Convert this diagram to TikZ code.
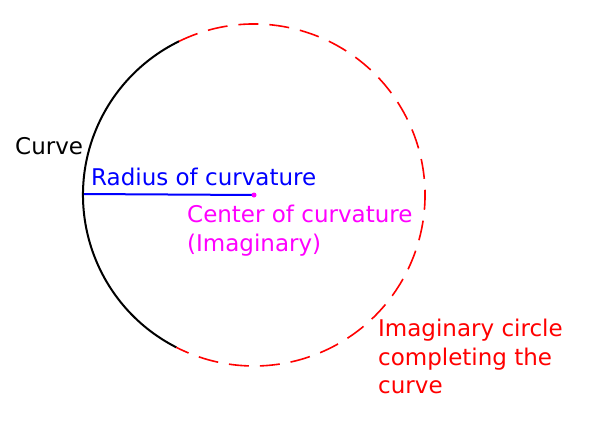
\documentclass[tikz,border=0pt]{standalone}
\usepackage{fontspec}
\setmainfont{DejaVu Sans}
\definecolor{mag}{RGB}{255,0,255}
\begin{document}
\begin{tikzpicture}[x=1pt,y=-1pt,
  lbl/.style={anchor=west,inner sep=0pt,font=\fontsize{23}{28.5}\selectfont,align=left}]
\useasboundingbox (0,0) rectangle (600,424);
\coordinate (c) at (254,195);
\coordinate (e) at (84,194);
\draw[black,line width=2pt] (c) ++(117:171) arc[start angle=117,end angle=244,radius=171];
\draw[red,line width=1.6pt,dash pattern=on 20pt off 11pt] (c) ++(-116:171) arc[start angle=-116,end angle=117,radius=171];
\draw[blue,line width=2pt] (c) -- (e);
\fill[mag] (c) circle[radius=2.5];
\node[lbl] (curve) at (15,146) {Curve};
\node[lbl,blue] (rad) at (91,177) {Radius of curvature};
\node[lbl,mag,anchor=north west] (cen) at (187,205) {Center of curvature\\(Imaginary)};
\node[lbl,red,anchor=north west] (imc) at (378,319) {Imaginary circle\\completing the\\curve};
\end{tikzpicture}
\end{document}
